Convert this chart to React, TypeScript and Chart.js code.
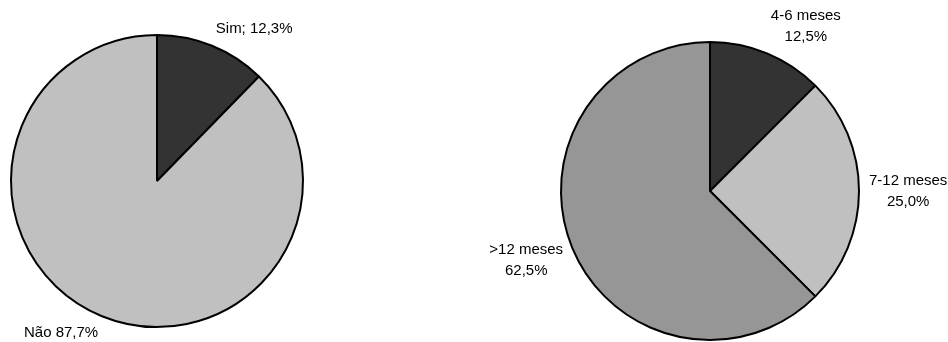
import React, { useEffect, useRef } from "react";
import { Chart, registerables } from "chart.js";

Chart.register(...registerables);

// Left pie: answers
const respostas = ["Sim", "Não"];
const respostasPct = [12.3, 87.7];
const respostasSep = ["; ", " "];
const respostasCores = ["#333333", "#c0c0c0"];

// Right pie: time ranges
const periodos = ["4-6 meses", "7-12 meses", ">12 meses"];
const periodosPct = [12.5, 25.0, 62.5];
const periodosCores = ["#333333", "#c0c0c0", "#969696"];

const FONT = '15px "Liberation Sans", Arial, sans-serif';
const FONT_SIZE = 15;
const LINE_H = 21;

const fmt = (v: number) => v.toFixed(1).replace(".", ",") + "%";

const clamp01 = (v: number) => Math.max(0, Math.min(1, v));

// Draws outside-end labels for each slice; the label box is positioned so the
// anchor point on the slice's bisector slides around the box with the angle.
const outsideLabels = {
  id: "outsideLabels",
  afterDatasetsDraw(chart: any, _args: any, opts: any) {
    const ctx = chart.ctx;
    const meta = chart.getDatasetMeta(0);
    const lines: string[][] = opts.lines || [];
    const gap: number = opts.gap ?? 10;
    ctx.save();
    ctx.font = FONT;
    ctx.fillStyle = "#000";
    ctx.textAlign = "center";
    ctx.textBaseline = "middle";
    meta.data.forEach((arc: any, i: number) => {
      const { x, y, startAngle, endAngle, outerRadius } = arc.getProps(
        ["x", "y", "startAngle", "endAngle", "outerRadius"],
        true
      );
      const mid = (startAngle + endAngle) / 2;
      const c = Math.cos(mid);
      const s = Math.sin(mid);
      const ax = x + c * (outerRadius + gap);
      const ay = y + s * (outerRadius + gap);
      const ls = lines[i] || [];
      const w = Math.max(...ls.map((t) => ctx.measureText(t).width));
      const h = (ls.length - 1) * LINE_H + FONT_SIZE;
      const fx = clamp01(0.5 - 1.5 * c);
      const fy = clamp01(0.5 - 0.6 * s);
      const left = ax - fx * w;
      const top = ay - fy * h;
      ls.forEach((t, k) => {
        ctx.fillText(t, left + w / 2, top + FONT_SIZE / 2 + k * LINE_H);
      });
    });
    ctx.restore();
  },
};

type PieProps = {
  labels: string[];
  values: number[];
  colors: string[];
  lines: string[][];
  radius: number;
  padding: { top: number; bottom: number; left: number; right: number };
  style: React.CSSProperties;
};

function Pie({ labels, values, colors, lines, radius, padding, style }: PieProps) {
  const ref = useRef<HTMLCanvasElement | null>(null);
  useEffect(() => {
    if (!ref.current) return;
    const chart = new Chart(ref.current, {
      type: "pie",
      data: {
        labels,
        datasets: [
          {
            data: values,
            backgroundColor: colors,
            borderColor: "#000000",
            borderWidth: 2,
          },
        ],
      },
      options: {
        animation: false,
        responsive: true,
        maintainAspectRatio: false,
        radius,
        layout: { padding },
        plugins: {
          legend: { display: false },
          tooltip: { enabled: false },
          outsideLabels: { lines, gap: 10 },
        } as any,
      },
      plugins: [outsideLabels],
    });
    return () => chart.destroy();
  }, []);
  return (
    <div style={{ position: "absolute", ...style }}>
      <canvas ref={ref} />
    </div>
  );
}

export default function App() {
  const leftLines = respostas.map((r, i) => [r + respostasSep[i] + fmt(respostasPct[i])]);
  const rightLines = periodos.map((p, i) => [p, fmt(periodosPct[i])]);
  return (
    <div
      style={{
        position: "absolute",
        left: 0,
        top: 0,
        width: 948,
        height: 342,
        background: "#ffffff",
        overflow: "hidden",
      }}
    >
      <Pie
        labels={respostas}
        values={respostasPct}
        colors={respostasCores}
        lines={leftLines}
        radius={146}
        padding={{ top: 20, bottom: 0, left: 0, right: 0 }}
        style={{ left: 0, top: 0, width: 314, height: 342 }}
      />
      <Pie
        labels={periodos}
        values={periodosPct}
        colors={periodosCores}
        lines={rightLines}
        radius={149}
        padding={{ top: 40, bottom: 0, left: 0, right: 0 }}
        style={{ left: 472, top: 0, width: 476, height: 342 }}
      />
    </div>
  );
}
